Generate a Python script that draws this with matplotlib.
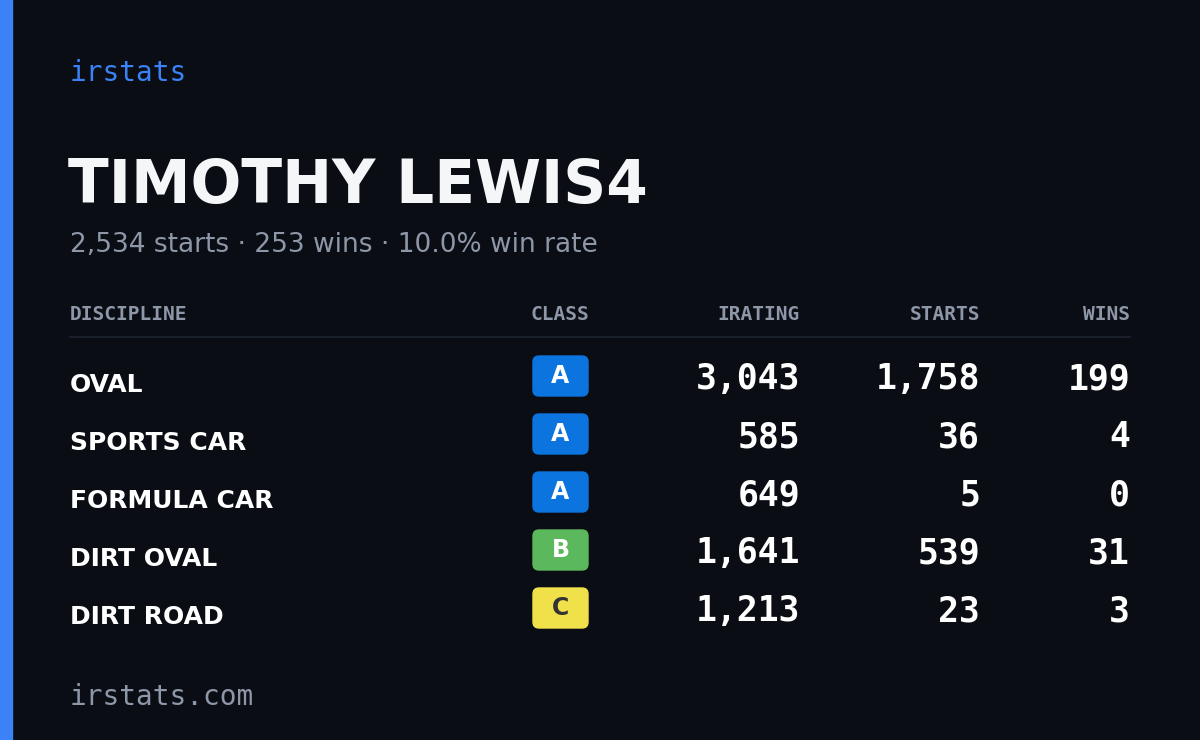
import matplotlib
matplotlib.use("Agg")
import matplotlib.pyplot as plt
from matplotlib.patches import FancyBboxPatch, Rectangle

name = "TIMOTHY LEWIS4"
summary = "2,534 starts · 253 wins · 10.0% win rate"
headers = ["DISCIPLINE", "CLASS", "IRATING", "STARTS", "WINS"]
disciplines = ["OVAL", "SPORTS CAR", "FORMULA CAR", "DIRT OVAL", "DIRT ROAD"]
classes = ["A", "A", "A", "B", "C"]
irating = [3043, 585, 649, 1641, 1213]
starts = [1758, 36, 5, 539, 23]
wins = [199, 4, 0, 31, 3]
class_colors = {"A": "#0b74de", "B": "#5cb85c", "C": "#f0e14a"}
class_text = {"A": "white", "B": "white", "C": "#333333"}

BG = "#0a0d14"
fig = plt.figure(figsize=(12, 7.4), dpi=100, facecolor=BG)
ax = fig.add_axes([0, 0, 1, 1])
ax.set_xlim(0, 1200); ax.set_ylim(740, 0); ax.axis("off")
ax.set_facecolor(BG)
ax.add_patch(Rectangle((0, 0), 12, 740, color="#3b82f6"))

mono = "DejaVu Sans Mono"
ax.text(70, 73, "irstats", color="#3b82f6", fontsize=20, family=mono, va="center")
ax.text(68, 186, name, color="#f5f6f8", fontsize=43, weight="bold", family="DejaVu Sans", va="center")
ax.text(70, 245, summary, color="#8d97a8", fontsize=19, family="DejaVu Sans", va="center")

hx = [70, 560, 800, 980, 1130]
ha = ["left", "center", "right", "right", "right"]
for x, h, a in zip(hx, headers, ha):
    ax.text(x, 314, h, color="#8d97a8", fontsize=14, family=mono, weight="bold", ha=a, va="center")
ax.plot([70, 1130], [337, 337], color="#1e2430", lw=1.2)

for i, d in enumerate(disciplines):
    y = 380 + i * 58
    ax.text(70, y + 5, d, color="white", fontsize=18, weight="bold", family="DejaVu Sans", va="center")
    c = classes[i]
    ax.add_patch(FancyBboxPatch((533, y - 24), 55, 40, boxstyle="round,pad=0,rounding_size=6",
                                color=class_colors[c]))
    ax.text(560.5, y - 4, c, color=class_text[c], fontsize=17, weight="bold", ha="center", va="center")
    for x, v in zip(hx[2:], [irating[i], starts[i], wins[i]]):
        ax.text(x, y - 1, f"{v:,}", color="white", fontsize=25, family=mono, weight="bold",
                ha="right", va="center")

ax.text(70, 697, "irstats.com", color="#8d97a8", fontsize=20, family=mono, va="center")
fig.savefig("out.png", dpi=100, facecolor=BG)
